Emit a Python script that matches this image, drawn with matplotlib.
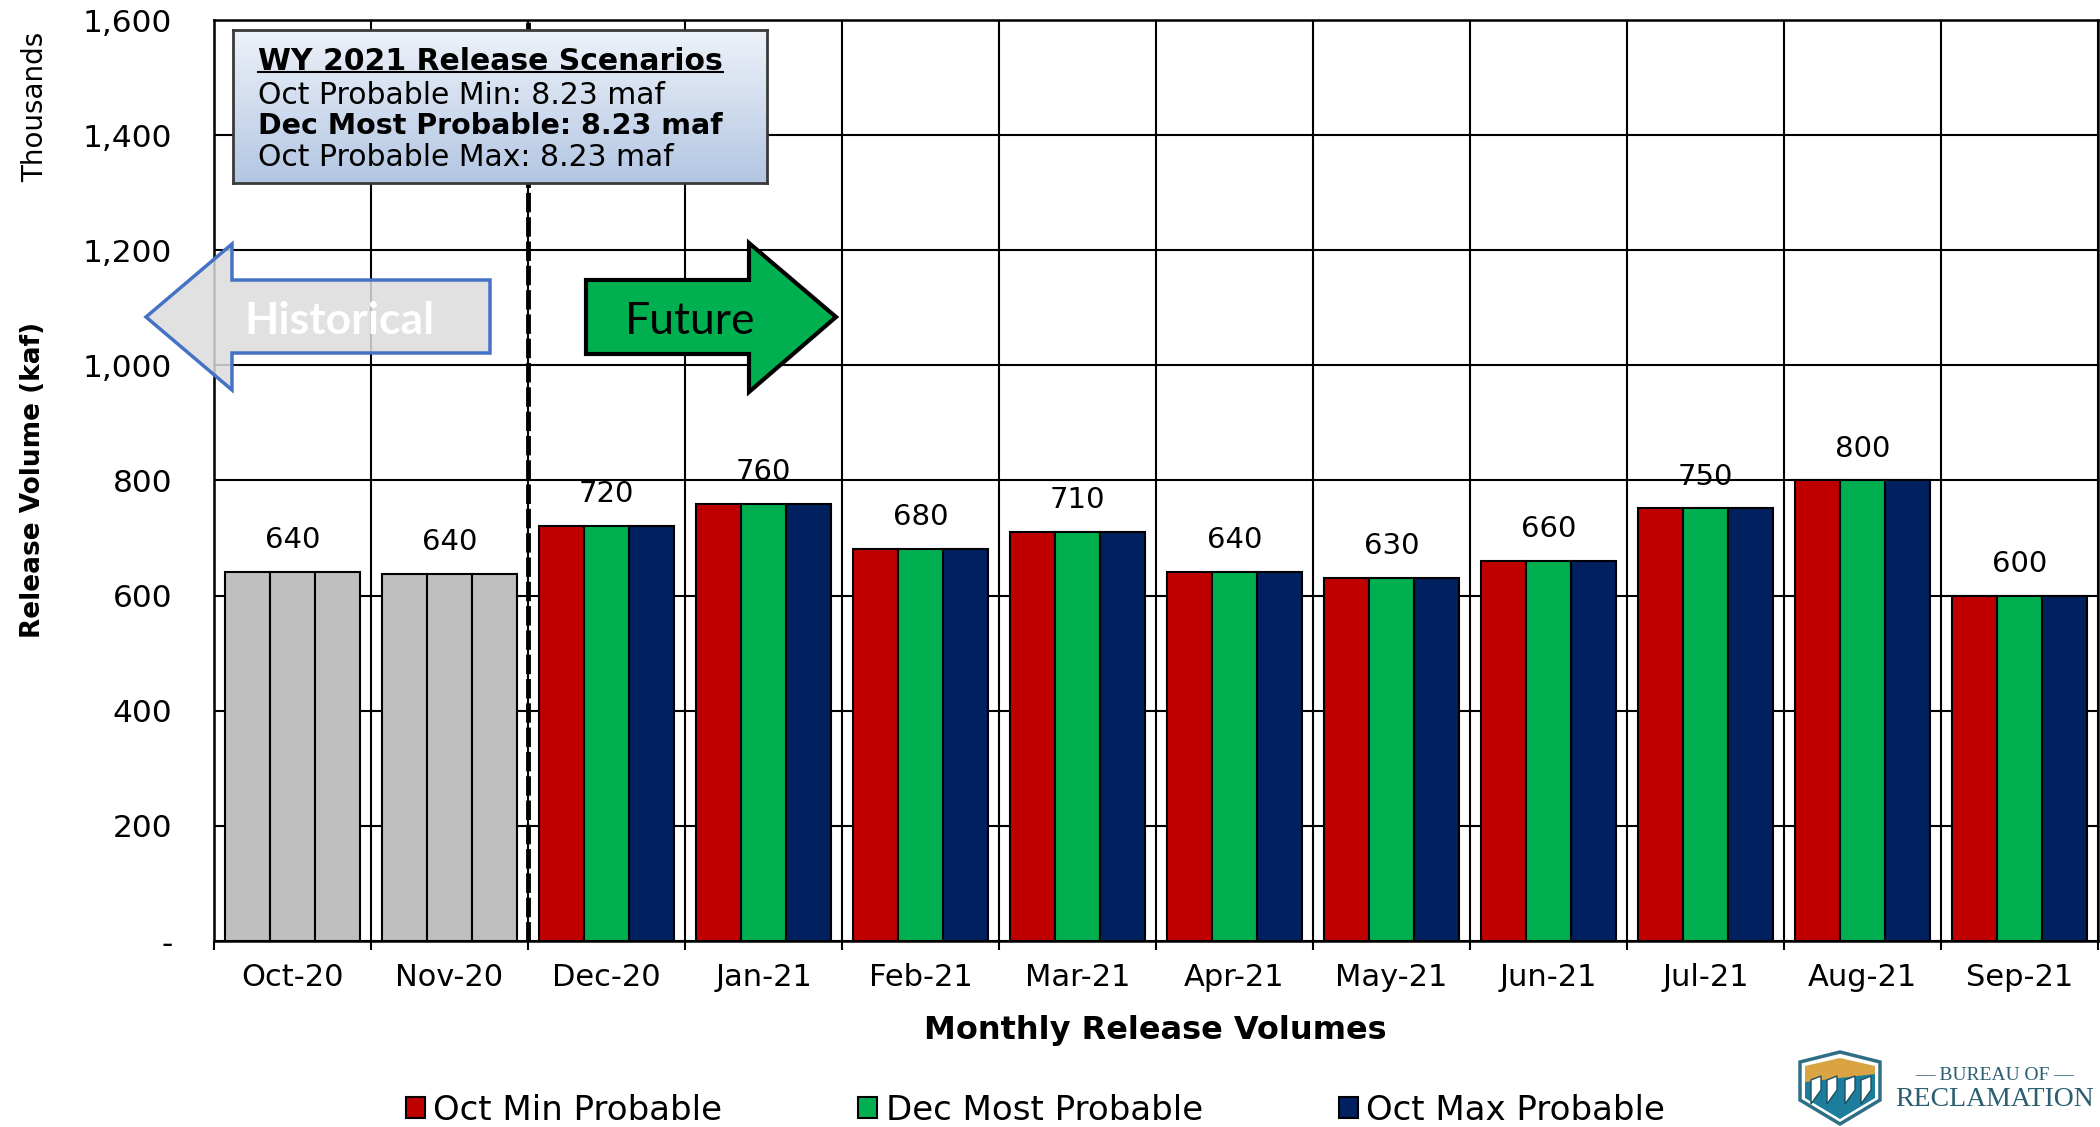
import numpy as np
import matplotlib.pyplot as plt
from matplotlib.patches import Polygon, Patch
from matplotlib.lines import Line2D
from matplotlib.colors import LinearSegmentedColormap

plt.rcParams['font.family'] = ['DejaVu Sans']

# chart data (kaf)
months = ['Oct-20', 'Nov-20', 'Dec-20', 'Jan-21', 'Feb-21', 'Mar-21',
          'Apr-21', 'May-21', 'Jun-21', 'Jul-21', 'Aug-21', 'Sep-21']
oct_min = [641, 638, 721, 760, 681, 711, 641, 631, 660, 752, 800, 600]
dec_most = [641, 638, 721, 760, 681, 711, 641, 631, 660, 752, 800, 600]
oct_max = [641, 638, 721, 760, 681, 711, 641, 631, 660, 752, 800, 600]
n_historical = 2
scenario_names = ['Oct Min Probable', 'Dec Most Probable', 'Oct Max Probable']
scenario_colors = ['#C00000', '#00B050', '#002060']
hist_color = '#BFBFBF'
yticks = [0, 200, 400, 600, 800, 1000, 1200, 1400, 1600]

box_title = 'WY 2021 Release Scenarios'
box_lines = ['Oct Probable Min: 8.23 maf',
             'Dec Most Probable: 8.23 maf',
             'Oct Probable Max: 8.23 maf']

W, H = 2100, 1127


def px(x, y):
    # pixel position (top-left origin) -> figure fraction
    return x / W, 1 - y / H


fig = plt.figure(figsize=(21, 11.27), dpi=100)
ax = fig.add_axes([214 / W, 1 - 941 / H, 1884 / W, 921 / H])

x = np.arange(len(months))
bw = 0.287
for i, vals in enumerate([oct_min, dec_most, oct_max]):
    cols = [hist_color if k < n_historical else scenario_colors[i] for k in range(len(months))]
    ax.bar(x + (i - 1) * bw, vals, bw, color=cols, edgecolor='black', linewidth=1.5, zorder=3)

# one value label per month, above the middle bar
for k, v in enumerate(dec_most):
    top = max(oct_min[k], dec_most[k], oct_max[k])
    ax.annotate(f'{round(v, -1):.0f}', (x[k], top), xytext=(0, 17), textcoords='offset points',
                ha='center', va='baseline', fontsize=21)

ax.set_xlim(-0.5, len(months) - 0.5)
ax.set_ylim(0, 1600)
ax.set_yticks(yticks)
ax.set_yticklabels(['-' if v == 0 else f'{v:,}' for v in yticks])
ax.set_xticks(x)
ax.set_xticklabels(months)
ax.set_xticks(np.arange(-0.5, len(months), 1), minor=True)
ax.tick_params(axis='y', length=0, pad=30, labelsize=22.5)
ax.tick_params(axis='x', which='major', length=0, pad=16, labelsize=22)
ax.tick_params(axis='x', which='minor', length=6.5, width=1.5, direction='out')
ax.set_axisbelow(True)
ax.yaxis.grid(True, color='black', lw=1.5)
ax.xaxis.grid(True, which='minor', color='black', lw=1.5)
for s in ax.spines.values():
    s.set_color('black')
    s.set_linewidth(1.8)

# historical / future divider
ax.axvline(n_historical - 0.5, color='black', lw=3.5, ls=(0, (4, 1)), zorder=4)

fig.text(*px(33, 480), 'Release Volume (kaf)', rotation=90, fontsize=19,
         fontweight='bold', ha='center', va='center')
fig.text(*px(35, 107), 'Thousands', rotation=90, fontsize=20, ha='center', va='center')
fig.text(*px(1155, 1030), 'Monthly Release Volumes', fontsize=23, fontweight='bold',
         ha='center', va='center')

# arrows
hist_pts = [(146, 317), (232, 244), (232, 280), (490, 280), (490, 353), (232, 353), (232, 390)]
fut_pts = [(586, 280), (749, 280), (749, 243), (836, 317), (749, 392), (749, 354), (586, 354)]
fig.add_artist(Polygon([px(*p) for p in hist_pts], closed=True, transform=fig.transFigure,
                       facecolor='#DCDCDC', alpha=0.85, edgecolor='none'))
fig.add_artist(Polygon([px(*p) for p in hist_pts], closed=True, transform=fig.transFigure,
                       facecolor='none', edgecolor='#4472C4', lw=2.5, joinstyle='miter'))
fig.add_artist(Polygon([px(*p) for p in fut_pts], closed=True, transform=fig.transFigure,
                       facecolor='#00B050', edgecolor='black', lw=3, joinstyle='miter'))
fig.text(*px(339, 317), 'Historical', color='white', fontsize=32, family='Lato',
         fontweight='bold', ha='center', va='center_baseline')
fig.text(*px(690, 317), 'Future', color='black', fontsize=32, family='Lato',
         ha='center', va='center_baseline')

# scenario box
bax = fig.add_axes([233 / W, 1 - 183 / H, 534 / W, 153 / H])
grad_cmap = LinearSegmentedColormap.from_list('box', ['#EEF2F9', '#B3C6E3'])
bax.imshow(np.linspace(0, 1, 256)[:, None], cmap=grad_cmap, aspect='auto', extent=[0, 1, 0, 1])
bax.set_xticks([])
bax.set_yticks([])
for s in bax.spines.values():
    s.set_color('#3A3A3A')
    s.set_linewidth(2)
t_title = fig.text(*px(258, 59), box_title, fontsize=21.5, fontweight='bold',
                   ha='left', va='center_baseline')
for j, (line, yy) in enumerate(zip(box_lines, [92, 123, 154])):
    fig.text(*px(258, yy), line, fontsize=20.5 if j == 1 else 21.5, ha='left',
             va='center_baseline', fontweight='bold' if j == 1 else 'normal')

# legend
handles = [Patch(facecolor=c, edgecolor='black', linewidth=1.5) for c in scenario_colors]
fig.legend(handles, scenario_names, loc='center left', bbox_to_anchor=px(406, 1110), ncol=3,
           frameon=False, fontsize=24.5, handlelength=0.55, handleheight=0.55,
           handletextpad=0.25, columnspacing=4.0, borderpad=0, borderaxespad=0)

# Reclamation logo
shield = [(1800, 1062), (1840, 1052), (1880, 1062), (1880, 1100), (1840, 1124), (1800, 1100)]
fig.add_artist(Polygon([px(*p) for p in shield], closed=True, transform=fig.transFigure,
                       facecolor='white', edgecolor='#2F6F86', lw=2.5))
gold = [(1805, 1066), (1840, 1058), (1875, 1066), (1875, 1085), (1805, 1085)]
fig.add_artist(Polygon([px(*p) for p in gold], closed=True, transform=fig.transFigure,
                       facecolor='#D9A441', edgecolor='none'))
teal = [(1805, 1082), (1875, 1074), (1875, 1098), (1840, 1119), (1805, 1098)]
fig.add_artist(Polygon([px(*p) for p in teal], closed=True, transform=fig.transFigure,
                       facecolor='#1C7D9C', edgecolor='none'))
for cx in [1816, 1832, 1850, 1866]:
    col = [(cx - 5, 1080), (cx + 5, 1076), (cx + 5, 1090), (cx - 5, 1104)]
    fig.add_artist(Polygon([px(*p) for p in col], closed=True, transform=fig.transFigure,
                           facecolor='white', edgecolor='#1D4E60', lw=1))
fig.text(*px(1995, 1076), '— BUREAU OF —', fontsize=14, family='Liberation Serif',
         color='#2B5F70', ha='center', va='center')
fig.text(*px(1995, 1100), 'RECLAMATION', fontsize=20, family='Liberation Serif',
         color='#2B5F70', ha='center', va='center')

# underline for the box title
fig.canvas.draw()
bb = t_title.get_window_extent().transformed(fig.transFigure.inverted())
fig.add_artist(Line2D([bb.x0, bb.x1], [px(0, 72)[1]] * 2, transform=fig.transFigure,
                      color='black', lw=1.5))

fig.savefig('out.png', dpi=100)
